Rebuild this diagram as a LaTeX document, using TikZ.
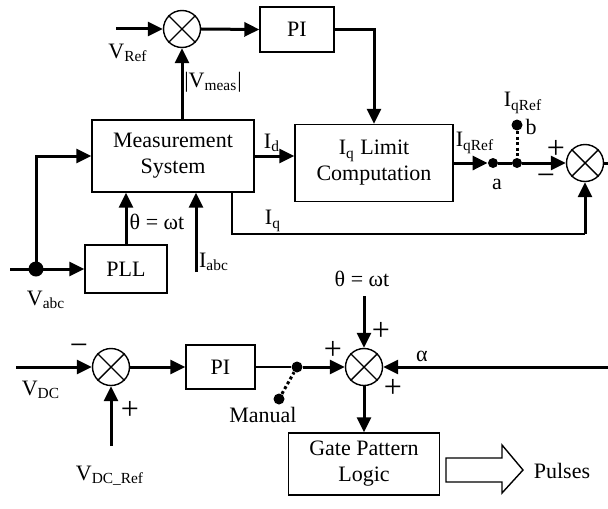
\documentclass[tikz,border=0pt]{standalone}
\usepackage{fontspec}
\setmainfont{Liberation Serif}
\usetikzlibrary{arrows.meta}
\begin{document}
\begin{tikzpicture}[x=0.5pt,y=-0.5pt,
  font=\fontsize{11}{13}\selectfont,
  block/.style={draw, line width=0.7pt, align=center, inner sep=0pt},
  sumj/.style={draw, circle, line width=0.7pt, minimum size=18.5pt, inner sep=0pt},
  sig/.style={line width=1.5pt, -{Triangle[length=7.5pt,width=7pt]}},
  wire/.style={line width=1.5pt},
  thinwire/.style={line width=0.7pt},
  dotn/.style={circle, fill, inner sep=0pt, minimum size=5pt},
  swline/.style={line width=1.5pt, dash pattern=on 1.5pt off 1.3pt},
  lbl/.style={inner sep=0pt},
  sign/.style={inner sep=0pt, font=\fontsize{16}{16}\selectfont}]
\useasboundingbox (0,0) rectangle (608,508);

% summing junctions with a cross inside
\foreach \n/\p in {sumA/{(182,29)}, sumB/{(585,163)}, sumC/{(364,367)}, sumD/{(111,367)}}{
  \node[sumj] (\n) at \p {};
  \draw[line width=0.7pt] (\n.north west) -- (\n.south east) (\n.north east) -- (\n.south west);
}

% blocks
\node[block, minimum width=37pt, minimum height=22.5pt] (piA) at (297,29.5) {PI};
\node[block, minimum width=81pt, minimum height=36pt] (meas) at (173,156) {Measurement\\System};
\node[block, minimum width=79pt, minimum height=38.5pt] (iqlim) at (374,163) {I\textsubscript{q} Limit\\Computation};
\node[block, minimum width=41pt, minimum height=24pt] (pll) at (126,269) {PLL};
\node[block, minimum width=34.5pt, minimum height=22pt] (piB) at (220.5,367) {PI};
\node[block, minimum width=75.5pt, minimum height=31pt] (gate) at (364,464) {Gate Pattern\\Logic};

% free ends of the signal lines
\coordinate (vref) at (116,29);
\coordinate (vin) at (10,269);
\coordinate (iabc) at (196,272);
\coordinate (iqc) at (232,234);
\coordinate (outB) at (608,163);
\coordinate (vdc) at (16,367);
\coordinate (vdcref) at (111,446);
\coordinate (theta) at (364,296);
\coordinate (alpha) at (608,367);

% junction and switch dots
\node[dotn, minimum size=7.5pt] (vabc) at (36,269) {};
\node[dotn] (adot) at (493,163) {};
\node[dotn] (jdot) at (517,163) {};
\node[dotn, minimum size=5.5pt] (bdot) at (517,125) {};
\node[dotn, minimum size=5.5pt] (sw) at (297,367) {};
\node[dotn, minimum size=5.5pt] (man) at (279,399) {};

% upper loop
\draw[sig] (vref) -- (sumA.west);
\draw[sig] (sumA.east) -- (piA.west);
\draw[sig] (piA.east) -| (iqlim.north);
\draw[sig] (meas.north -| sumA) -- (sumA.south);
\draw[sig] (meas.east) -- (meas.east -| iqlim.west);
\draw[sig] (vin) -- (pll.west);
\draw[sig] (vabc.center) |- (meas.west);
\draw[sig] (pll.north) -- (pll.north |- meas.south);
\draw[sig] (iabc) -- (iabc |- meas.south);
\draw[thinwire] (meas.south -| iqc) -- (iqc) -- (iqc -| sumB);
\draw[sig] (iqc -| sumB) -- (sumB.south);
\draw[sig] (iqlim.east) -- (adot.west);
\draw[wire] (adot) -- (jdot);
\draw[sig] (jdot) -- (sumB.west);
\draw[swline] (bdot) -- (jdot);
\draw[wire] (sumB.east) -- (outB);

% lower loop
\draw[sig] (vdc) -- (sumD.west);
\draw[sig] (vdcref) -- (sumD.south);
\draw[sig] (sumD.east) -- (piB.west);
\draw[thinwire] (piB.east) -- (sw);
\draw[sig] (sw) -- (sumC.west);
\draw[swline] (man) -- (sw);
\draw[sig] (theta) -- (sumC.north);
\draw[sig] (alpha) -- (sumC.east);
\draw[sig] (sumC.south) -- (gate.north);

% hollow output arrow
\draw[line width=0.7pt] (446,458) -- (502,458) -- (502,445) -- (523,470) -- (502,493) -- (502,482) -- (446,482) -- cycle;

% labels
\node[lbl] (lvref) at (128,53) {V\textsubscript{Ref}};
\node[lbl] (lvmeas) at (213,82) {|V\textsubscript{meas}|};
\node[lbl] (lid) at (272,143) {I\textsubscript{d}};
\node[lbl] (liq) at (273,221) {I\textsubscript{q}};
\node[lbl] (lqref) at (475,143) {I\textsubscript{qRef}};
\node[lbl] (la) at (497,184) {a};
\node[lbl] (lb) at (531,127) {b};
\node[lbl] (lqrefb) at (523,103) {I\textsubscript{qRef}};
\node[sign] (lpA) at (556,149) {+};
\node[sign] (lmA) at (546,180) {−};
\node[lbl] (ltheta) at (157,222) {θ = ωt};
\node[lbl] (liabc) at (214,262) {I\textsubscript{abc}};
\node[lbl] (lvabc) at (46,300) {V\textsubscript{abc}};
\node[lbl] (ltheta2) at (362,279) {θ = ωt};
\node[sign] (lpB) at (381,331) {+};
\node[lbl] (lalpha) at (422,356) {α};
\node[sign] (lpC) at (393,388) {+};
\node[sign] (lpD) at (333,350) {+};
\node[sign] (lmD) at (79,350) {−};
\node[lbl] (lvdc) at (41,390) {V\textsubscript{DC}};
\node[sign] (lpE) at (130,410) {+};
\node[lbl] (lvdcref) at (110,476) {V\textsubscript{DC\_Ref}};
\node[lbl] (lman) at (263,415) {Manual};
\node[lbl] (lpulses) at (562,471) {Pulses};
\end{tikzpicture}
\end{document}
